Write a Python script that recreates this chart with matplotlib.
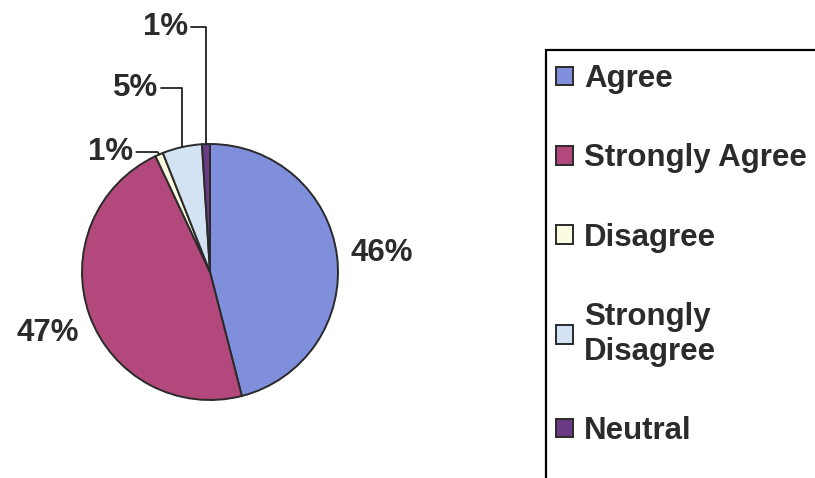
import matplotlib
matplotlib.use("Agg")
import matplotlib.pyplot as plt
from matplotlib.patches import Rectangle
import numpy as np

plt.rcParams['font.family'] = ['Liberation Sans', 'DejaVu Sans']
plt.rcParams['font.weight'] = 'bold'

labels = ["Agree", "Strongly Agree", "Disagree", "Strongly\nDisagree", "Neutral"]
values = [46, 47, 1, 5, 1]
colors = ["#7f8fdc", "#b2487c", "#fbfbe2", "#d3e3f3", "#6a3a84"]

TXT = "#2b2b2b"
FS = 22.5

fig = plt.figure(figsize=(8.15, 4.78), dpi=100)
ax = fig.add_axes([0, 0, 1, 1])

cx, cy, r = 210, 206, 128
wedges, _ = ax.pie(values, colors=colors, startangle=90, counterclock=False,
                   center=(cx, cy), radius=r, frame=True,
                   wedgeprops=dict(edgecolor="#2a2a2a", linewidth=1.4))
ax.set_xlim(0, 815)
ax.set_ylim(0, 478)
ax.axis("off")

def edge_point(w):
    a = np.deg2rad((w.theta1 + w.theta2) / 2)
    return cx + r * np.cos(a), cy + r * np.sin(a)

# plain labels for the two big slices
ax.text(382, 478 - 253, "46%", fontsize=FS, color=TXT, ha="center", va="center")
ax.text(48, 478 - 333, "47%", fontsize=FS, color=TXT, ha="center", va="center")

# small slices with leader lines: (slice index, text x, text y, connection)
small = [
    (4, 166, 478 - 27, "angle,angleA=0,angleB=90,rad=0"),
    (3, 136, 478 - 88, "angle,angleA=0,angleB=90,rad=0"),
    (2, 111, 478 - 152, "angle,angleA=0,angleB=120,rad=0"),
]
for i, tx, ty, cs in small:
    ax.annotate("%d%%" % values[i], xy=edge_point(wedges[i]), xytext=(tx, ty),
                fontsize=FS, color=TXT, ha="center", va="center",
                arrowprops=dict(arrowstyle="-", color="#222222", lw=1.3,
                                connectionstyle=cs, shrinkA=0, shrinkB=0))

# legend frame, runs off the figure on the right and bottom
ax.add_patch(Rectangle((546, -20), 400, 478 - 50 + 20, fill=False,
                       edgecolor="black", linewidth=1.6, clip_on=False))

leg = ax.legend(wedges, labels, loc="upper left",
                bbox_to_anchor=(556 / 815, 1 - 64 / 478),
                bbox_transform=fig.transFigure, frameon=False,
                fontsize=FS, borderpad=0, borderaxespad=0,
                handlelength=0.55, handleheight=0.55, handletextpad=0.35,
                labelspacing=1.58)
for t in leg.get_texts():
    t.set_color(TXT)
    t.set_fontweight("bold")

fig.savefig("out.png", dpi=100)
